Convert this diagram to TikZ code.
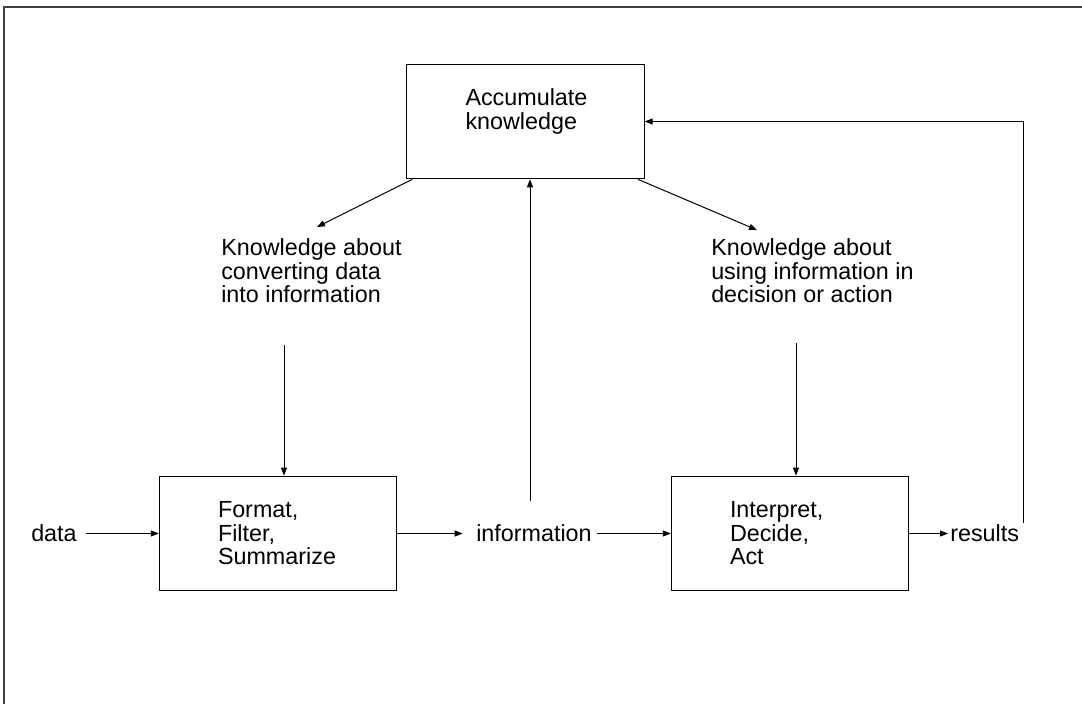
\documentclass[tikz,border=0pt]{standalone}
\usepackage{fontspec}
\setmainfont{Liberation Sans}
\usetikzlibrary{arrows.meta,positioning}

\begin{document}
\begin{tikzpicture}[x=0.75pt,y=-0.75pt,
  box/.style={draw,line width=0.8pt,minimum width=178pt,minimum height=86pt,
              text width=90pt,align=left,inner sep=0pt},
  lbl/.style={inner sep=0pt,align=left,anchor=west},
  arr/.style={-{Triangle[length=6pt,width=4.5pt]},line width=0.75pt},
  font=\fontsize{17.5}{17.6}\selectfont
]
\useasboundingbox (0,0) rectangle (1082,704);
\draw[line width=1.5pt,black!75] (4,704) -- (4,7) -- (1082,7);

% boxes
\node[box] (acc) at (525.5,121.5) {};
\node[inner sep=0pt,text width=90pt,align=left] (acctxt)
  at ([yshift=7.5pt]acc.center) {Accumulate\\knowledge};
\node[box] (fmt) at (278,533.5) {Format,\\Filter,\\Summarize};
\node[box] (act) at (790,533.5) {Interpret,\\Decide,\\Act};

% labels
\node[lbl] (kconv) at (221,271) {Knowledge about\\converting data\\into information};
\node[lbl] (kuse)  at (711,271) {Knowledge about\\using information in\\decision or action};
\node[lbl] (data) at (31,533.5) {data};
\node[lbl] (info) at (476,533.5) {information};
\node[lbl] (res)  at (950,533.5) {results};

% free ends
\coordinate (kconvin)  at (317,227);
\coordinate (kusein)   at (757,230);
\coordinate (kconvout) at (284,345);
\coordinate (kuseout)  at (796,343);
\coordinate (infoup)   at (530,501);
\coordinate (fbstart)  at (1023,523);

\draw[arr] ([xshift=4.5pt]acc.south west) -- (kconvin);
\draw[arr] ([xshift=-5pt]acc.south east) -- (kusein);
\draw[arr] (kconvout) -- (kconvout |- fmt.north);
\draw[arr] (kuseout) -- (kuseout |- act.north);
\draw[arr,shorten <=7pt] (data.east) -- (fmt.west);
\draw[arr,shorten >=10pt] (fmt.east) -- (info.west);
\draw[arr,shorten <=4pt] (info.east) -- (act.west);
\draw[arr,shorten >=1.5pt] (act.east) -- (res.west);
\draw[arr] (infoup) -- (infoup |- acc.south);
\draw[arr] (fbstart) |- (acc.east);
\end{tikzpicture}
\end{document}
